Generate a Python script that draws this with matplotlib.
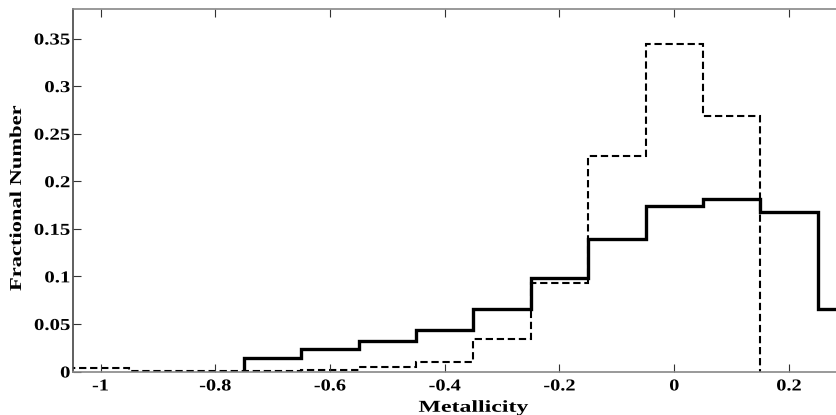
import numpy as np
import matplotlib
matplotlib.use("Agg")
import matplotlib.pyplot as plt
from matplotlib.patheffects import AbstractPathEffect
from matplotlib.transforms import Affine2D

# bin edges (metallicity) and fractional numbers
solid_edges = [-0.75, -0.65, -0.55, -0.45, -0.35, -0.25, -0.15,
               -0.05, 0.05, 0.15, 0.25, 0.35]
solid_frac = [0.0145, 0.0237, 0.032, 0.044, 0.066, 0.0986, 0.139,
              0.174, 0.181, 0.168, 0.0654]
dashed_edges = [-1.05, -0.95, -0.85, -0.75, -0.65, -0.55, -0.45, -0.35,
                -0.25, -0.15, -0.05, 0.05, 0.15]
dashed_frac = [0.0033, 0.0006, 0.0006, 0.0006, 0.0016, 0.0044, 0.0097, 0.034,
               0.0927, 0.226, 0.344, 0.269]

x_ticks = [-1, -0.8, -0.6, -0.4, -0.2, 0, 0.2]
x_labels = ["-1", "-0.8", "-0.6", "-0.4", "-0.2", "0", "0.2"]
y_ticks = [0, 0.05, 0.1, 0.15, 0.2, 0.25, 0.3, 0.35]
y_labels = ["0", "0.05", "0.1", "0.15", "0.2", "0.25", "0.3", "0.35"]


class Stretch(AbstractPathEffect):
    # widen text along its own direction (the reference font looks stretched)
    def __init__(self, sx, anchor="center"):
        super().__init__()
        self.sx = sx
        self.anchor = anchor

    def draw_path(self, renderer, gc, tpath, affine, rgbFace=None):
        ext = tpath.get_extents()
        if self.anchor == "right":
            cx = ext.x1
        else:
            cx = (ext.x0 + ext.x1) / 2
        t = Affine2D().translate(-cx, 0).scale(self.sx, 1).translate(cx, 0) + affine
        renderer.draw_path(gc, tpath, t, rgbFace)


plt.rcParams["font.family"] = ["Liberation Serif", "DejaVu Serif"]
plt.rcParams["font.weight"] = "bold"

fig = plt.figure(figsize=(8.37, 4.15), dpi=100)
ax = fig.add_axes([0.0872, 0.1048, 0.9128, 0.8735])

ax.stairs(solid_frac, solid_edges, color="black", linewidth=2.4, baseline=0)
ax.stairs(dashed_frac, dashed_edges, color="black", linewidth=1.5,
          linestyle=(0, (3.5, 1.8)), baseline=0)

ax.set_xlim(-1.048, 0.2837)
ax.set_ylim(0, 0.381)

ax.set_xticks(x_ticks)
ax.set_xticklabels(x_labels)
ax.set_yticks(y_ticks)
ax.set_yticklabels(y_labels)
ax.tick_params(direction="in", top=True, right=False, length=6, width=0.8,
               labelsize=12, colors="#333333", labelcolor="black")
ax.tick_params(axis="x", pad=5)
ax.tick_params(axis="y", pad=2)

for lab in ax.get_xticklabels():
    lab.set_path_effects([Stretch(1.22)])
for lab in ax.get_yticklabels():
    lab.set_path_effects([Stretch(1.25, "right")])

for side in ["left", "bottom", "top"]:
    ax.spines[side].set_color("#888888")
    ax.spines[side].set_linewidth(1.2)
ax.spines["left"].set_color("#444444")
ax.spines["right"].set_visible(False)

xl = ax.set_xlabel("Metallicity", fontsize=12, fontweight="bold")
yl = ax.set_ylabel("Fractional Number", fontsize=12, fontweight="bold")
xl.set_va("center")
yl.set_va("center")
ax.xaxis.set_label_coords(0.524, -0.1)
ax.yaxis.set_label_coords(-0.0733, 0.477)
xl.set_path_effects([Stretch(1.43)])
yl.set_path_effects([Stretch(1.35)])

fig.savefig("out.png", dpi=100)
